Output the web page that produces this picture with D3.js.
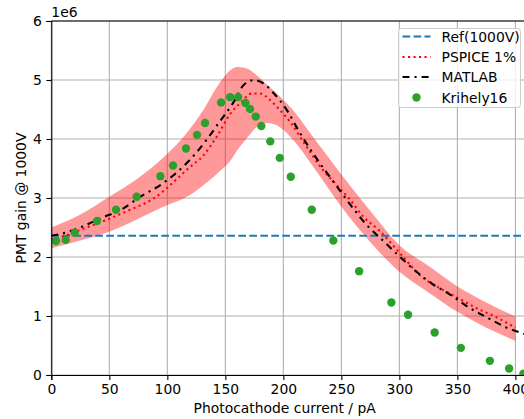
<!DOCTYPE html>
<html>
<head>
<meta charset="utf-8">
<script src="https://cdn.jsdelivr.net/npm/d3@7"></script>
<style>
  html, body { margin: 0; padding: 0; background: #fff; }
  svg { display: block; font-family: "DejaVu Sans", sans-serif; }
</style>
</head>
<body>
<svg id="chart" width="524" height="419"></svg>
<script>
// Photocathode current (pA) and PMT gain (units of 1e6)
const refGain = 2.36;

const pspiceX = [0, 7.5, 27.6, 47.7, 67.8, 88, 106, 118, 131, 142.6, 154, 164, 172.7, 180, 188.5, 197, 205.8, 220, 234.4, 246, 257.5, 269, 282, 302, 317.8, 335, 351, 366.7, 382.5, 400];
const pspiceY = [2.30, 2.33, 2.48, 2.63, 2.80, 2.99, 3.28, 3.50, 3.72, 4.04, 4.42, 4.63, 4.77, 4.77, 4.66, 4.49, 4.29, 3.87, 3.47, 3.22, 2.97, 2.68, 2.46, 2.03, 1.69, 1.47, 1.30, 1.13, 0.99, 0.80];

const matlabX = [0, 8, 26, 43, 61, 76.5, 94, 108, 121, 134, 145, 157, 166, 175, 183, 192, 204, 212, 226.5, 237.4, 249, 260, 272, 281, 299, 313.5, 328, 344, 359.5, 377, 394, 405.5, 412];
const matlabY = [2.36, 2.39, 2.51, 2.66, 2.81, 3.02, 3.22, 3.43, 3.68, 3.99, 4.29, 4.62, 4.92, 5.00, 4.94, 4.77, 4.46, 4.18, 3.73, 3.43, 3.12, 2.83, 2.54, 2.37, 2.03, 1.77, 1.55, 1.36, 1.15, 0.96, 0.79, 0.71, 0.67];

const bandX = [0, 25, 50, 75, 100, 115, 130, 145, 155, 160, 168, 177, 186, 197, 210, 225, 250, 275, 300, 325, 350, 375, 400];
const bandLow = [2.15, 2.28, 2.43, 2.65, 2.88, 3.00, 3.20, 3.45, 3.65, 3.80, 4.00, 4.20, 4.27, 4.20, 3.95, 3.55, 2.85, 2.25, 1.75, 1.40, 1.07, 0.80, 0.58];
const bandHigh = [2.50, 2.72, 3.02, 3.34, 3.75, 4.06, 4.46, 4.95, 5.18, 5.22, 5.20, 5.08, 4.92, 4.72, 4.45, 4.05, 3.40, 2.78, 2.20, 1.85, 1.50, 1.23, 0.99];

const krihelyX = [4.05, 12.4, 20.2, 39.4, 55.8, 73.6, 94.0, 104.9, 116.1, 125.6, 132.5, 146.3, 154.1, 161.0, 167.3, 171.3, 176.2, 181.0, 188.7, 196.9, 206.4, 224.5, 243.1, 265.3, 293.1, 307.5, 330.4, 353.0, 378.0, 394.6, 406.9];
const krihelyY = [2.27, 2.29, 2.41, 2.61, 2.80, 3.02, 3.37, 3.55, 3.84, 4.07, 4.27, 4.62, 4.71, 4.71, 4.61, 4.51, 4.38, 4.22, 3.96, 3.68, 3.36, 2.80, 2.28, 1.76, 1.23, 1.02, 0.72, 0.46, 0.24, 0.11, 0.02];

const xTicks = [0, 50, 100, 150, 200, 250, 300, 350, 400];
const yTicks = [0, 1, 2, 3, 4, 5, 6];
const legendLabels = ["Ref(1000V)", "PSPICE 1%", "MATLAB", "Krihely16"];

const svg = d3.select("#chart");
const pLeft = 51.3, pRight = 527, pTop = 21, pBottom = 375;
const x = d3.scaleLinear().domain([0, 410]).range([pLeft, pRight]);
const y = d3.scaleLinear().domain([0, 6]).range([pBottom, pTop]);

const fs = "13.9px";

// clip region for the plotting area
svg.append("defs").append("clipPath").attr("id", "plotclip")
  .append("rect").attr("x", pLeft).attr("y", pTop).attr("width", pRight - pLeft).attr("height", pBottom - pTop);

// grid
const grid = svg.append("g");
xTicks.forEach(t => grid.append("line")
  .attr("x1", x(t)).attr("x2", x(t)).attr("y1", pTop).attr("y2", pBottom)
  .attr("stroke", "#b0b0b0").attr("stroke-width", 1.1));
yTicks.forEach(t => grid.append("line")
  .attr("x1", pLeft).attr("x2", pRight).attr("y1", y(t)).attr("y2", y(t))
  .attr("stroke", "#b0b0b0").attr("stroke-width", 1.1));

const plot = svg.append("g").attr("clip-path", "url(#plotclip)");

// tolerance band
const band = bandX.map((v, i) => ({x: v, lo: bandLow[i], hi: bandHigh[i]}));
plot.append("path")
  .attr("d", d3.area().x(d => x(d.x)).y0(d => y(d.lo)).y1(d => y(d.hi)).curve(d3.curveMonotoneX)(band))
  .attr("fill", "red").attr("fill-opacity", 0.4);

// reference gain
plot.append("line")
  .attr("x1", x(0)).attr("x2", x(410)).attr("y1", y(refGain)).attr("y2", y(refGain))
  .attr("stroke", "#1f77b4").attr("stroke-width", 2.1).attr("stroke-dasharray", "7.7,3.3");

const line = d3.line().x(d => x(d[0])).y(d => y(d[1])).curve(d3.curveMonotoneX);

// PSPICE
plot.append("path")
  .attr("d", line(pspiceX.map((v, i) => [v, pspiceY[i]])))
  .attr("fill", "none").attr("stroke", "red").attr("stroke-width", 2.1)
  .attr("stroke-dasharray", "2.1,3.4");

// MATLAB
plot.append("path")
  .attr("d", line(matlabX.map((v, i) => [v, matlabY[i]])))
  .attr("fill", "none").attr("stroke", "black").attr("stroke-width", 2.1)
  .attr("stroke-dasharray", "7,5,2.1,5");

// Krihely16 measurements
plot.selectAll("circle.k").data(krihelyX.map((v, i) => [v, krihelyY[i]]))
  .enter().append("circle")
  .attr("cx", d => x(d[0])).attr("cy", d => y(d[1])).attr("r", 4.2)
  .attr("fill", "#2ca02c");

// axes
const xAxis = d3.axisBottom(x).tickValues(xTicks).tickSize(4.9).tickPadding(4.5).tickFormat(d3.format("d"));
const yAxis = d3.axisLeft(y).tickValues(yTicks).tickSize(4.9).tickPadding(4.5).tickFormat(d3.format("d"));
const gx = svg.append("g").attr("transform", `translate(0,${pBottom})`).call(xAxis);
const gy = svg.append("g").attr("transform", `translate(${pLeft},0)`).call(yAxis);
[gx, gy].forEach(g => {
  g.selectAll("path.domain").attr("stroke", "#000").attr("stroke-width", 1.1);
  g.selectAll(".tick line").attr("stroke", "#000").attr("stroke-width", 1.1);
  g.selectAll(".tick text").attr("fill", "#000").style("font-size", fs).style("font-family", "DejaVu Sans");
});
// top spine
svg.append("line").attr("x1", pLeft).attr("x2", pRight).attr("y1", pTop).attr("y2", pTop)
  .attr("stroke", "#000").attr("stroke-width", 1.1);

// offset label and axis titles
svg.append("text").attr("x", pLeft).attr("y", 17).text("1e6")
  .style("font-size", fs).attr("fill", "#000");
svg.append("text").attr("x", (pLeft + 524) / 2 - 3).attr("y", 413).attr("text-anchor", "middle")
  .text("Photocathode current / pA").style("font-size", fs).attr("fill", "#000");
svg.append("text").attr("transform", `translate(26,${(pTop + pBottom) / 2}) rotate(-90)`)
  .attr("text-anchor", "middle").text("PMT gain @ 1000V").style("font-size", fs).attr("fill", "#000");

// legend
const lg = svg.append("g");
lg.append("rect").attr("x", 398.5).attr("y", 28.5).attr("width", 122).attr("height", 79).attr("rx", 3)
  .attr("fill", "#fff").attr("fill-opacity", 0.8).attr("stroke", "#cccccc").attr("stroke-width", 1);
const rowY = [36.5, 57, 77, 97.5];
const sx0 = 402.5, sx1 = 430.5;
lg.append("line").attr("x1", sx0).attr("x2", sx1).attr("y1", rowY[0]).attr("y2", rowY[0])
  .attr("stroke", "#1f77b4").attr("stroke-width", 2.1).attr("stroke-dasharray", "7.7,3.3");
lg.append("line").attr("x1", sx0).attr("x2", sx1).attr("y1", rowY[1]).attr("y2", rowY[1])
  .attr("stroke", "red").attr("stroke-width", 2.1).attr("stroke-dasharray", "2.1,3.4");
lg.append("line").attr("x1", sx0).attr("x2", sx1).attr("y1", rowY[2]).attr("y2", rowY[2])
  .attr("stroke", "black").attr("stroke-width", 2.1).attr("stroke-dasharray", "7,5,2.1,5");
lg.append("circle").attr("cx", (sx0 + sx1) / 2).attr("cy", rowY[3]).attr("r", 4.2).attr("fill", "#2ca02c");
legendLabels.forEach((t, i) => lg.append("text").attr("x", 441.5).attr("y", rowY[i]).attr("dy", "0.36em")
  .text(t).style("font-size", fs).attr("fill", "#000"));
</script>
</body>
</html>
